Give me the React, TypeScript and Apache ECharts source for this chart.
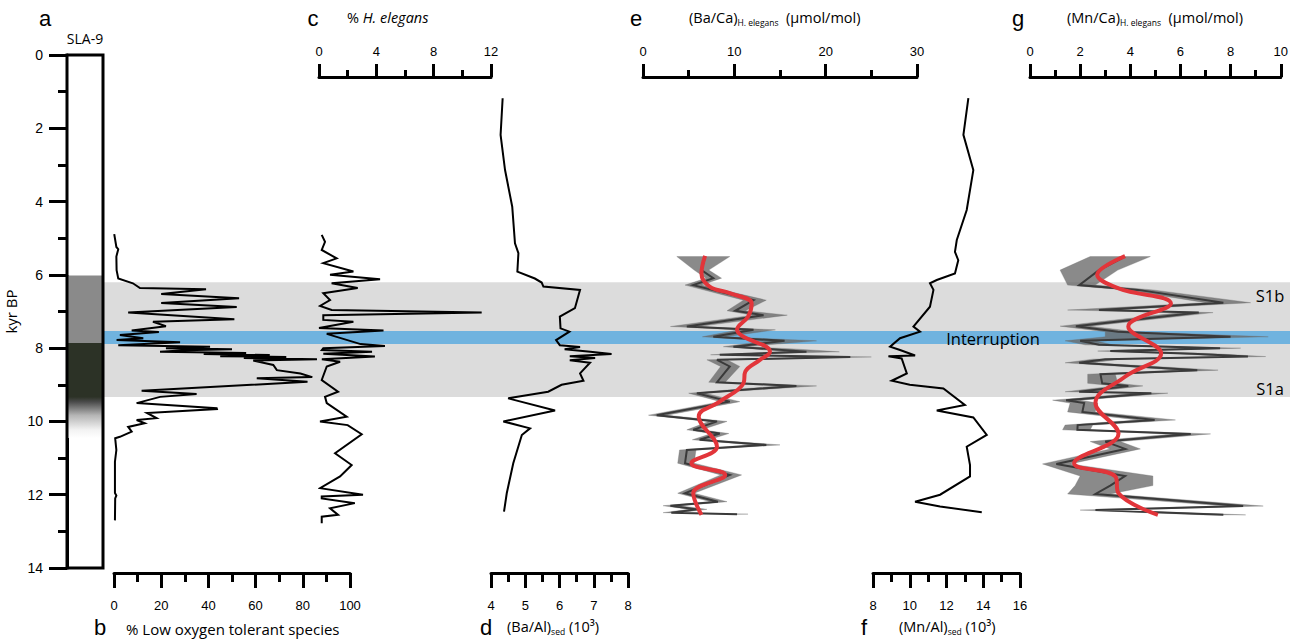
import React, { useEffect, useRef } from "react";
import * as echarts from "echarts";

// ---------- DATA ----------
// Depth/age axis (kyr BP)
const ageMin = 0;
const ageMax = 14;

// Core lithology (panel a)
const coreTop = [0, 6.02, 7.86, 9.33];
const coreBottom = [6.02, 7.86, 9.33, 10.45];
const coreKind = ["white", "grey", "dark", "fade"];

// Background bands: S1 sapropel and interruption
const bandTop = [6.2, 7.53];
const bandBottom = [9.33, 7.89];
const bandKind = ["s1", "interruption"];

// Panel b: % low oxygen tolerant species
const bAge = [4.89, 5.24, 5.3, 5.5, 5.87, 6.1, 6.23, 6.36, 6.39, 6.52, 6.64, 6.77, 6.88, 7.03, 7.21, 7.28, 7.4, 7.52, 7.56, 7.64, 7.73, 7.78, 7.84, 7.92, 7.96, 8.0, 8.03, 8.06, 8.1, 8.13, 8.16, 8.19, 8.22, 8.24, 8.27, 8.3, 8.34, 8.46, 8.6, 8.69, 8.79, 8.82, 8.92, 9.16, 9.25, 9.33, 9.5, 9.64, 9.66, 9.77, 9.91, 9.96, 10.05, 10.15, 10.28, 10.42, 10.46, 10.78, 11.1, 11.95, 12.02, 12.1, 12.7];
const bVal = [0.1, 1, 1.8, 1, 1.1, 1.8, 8, 11, 39, 20, 53, 20, 52, 6, 51, 16.5, 22, 7.5, 19, 2.5, 12.4, 1.1, 28, 1.8, 40.7, 22, 50, 30, 19.5, 56, 38, 66, 45, 73, 55, 86, 59, 67.5, 69, 79, 84, 60.5, 82, 11.7, 35, 19.5, 9.6, 43.5, 43.6, 14, 18, 9.6, 13, 6, 7.5, 2.5, 0.5, 1, 0.4, 0.4, 1, 0.5, 0.4];

// Panel c: % H. elegans
const cAge = [4.91, 5.1, 5.32, 5.55, 5.68, 5.91, 6.0, 6.12, 6.23, 6.36, 6.5, 6.69, 6.85, 6.96, 7.03, 7.1, 7.23, 7.28, 7.45, 7.52, 7.61, 7.89, 7.94, 8.0, 8.05, 8.1, 8.15, 8.23, 8.3, 8.37, 8.5, 8.87, 9.19, 9.33, 9.5, 9.87, 10.0, 10.1, 10.35, 10.87, 11.19, 11.5, 11.82, 12.0, 12.05, 12.1, 12.23, 12.37, 12.55, 12.6, 12.78];
const cVal = [0.19, 0.42, 0.19, 1.23, 0.3, 2.4, 0.77, 4.26, 0.88, 2.7, 0.3, 0.77, 0.07, 0.88, 11.35, 0.3, 0.3, 2.4, 0.0, 4.5, 0.54, 2.9, 4.6, 0.3, 0.2, 3.7, 0.3, 3.9, 0.2, 1.47, 0.54, 0.19, 1.33, 0.42, 0.54, 1.93, 0.07, 2.0, 2.98, 1.12, 2.28, 1.47, 0.07, 3.07, 0.19, 0.19, 2.5, 0.77, 1.33, 0.19, 0.19];

// Panel d: (Ba/Al)sed
const dAge = [1.18, 2.18, 3.14, 4.14, 5.14, 5.41, 5.91, 6.1, 6.21, 6.32, 6.41, 6.91, 7.14, 7.46, 7.55, 7.78, 7.92, 7.97, 8.03, 8.1, 8.16, 8.22, 8.27, 8.33, 8.4, 8.69, 8.89, 9.0, 9.19, 9.37, 9.7, 10.0, 10.19, 10.37, 11.14, 11.96, 12.46];
const dVal = [4.34, 4.28, 4.41, 4.62, 4.7, 4.8, 4.77, 5.28, 5.48, 5.53, 6.6, 6.45, 6.01, 6.03, 6.29, 5.9, 6.01, 6.6, 6.15, 6.9, 7.52, 6.3, 7.04, 6.3, 6.89, 6.6, 6.7, 6.06, 5.67, 4.5, 5.87, 4.36, 5.14, 4.9, 4.65, 4.46, 4.38];

// Panel e: (Ba/Ca) H. elegans, measured line with uncertainty envelope
const eAge = [5.5, 5.87, 6.09, 6.28, 6.69, 6.98, 7.1, 7.41, 7.5, 7.69, 7.8, 7.96, 8.02, 8.1, 8.18, 8.24, 8.32, 8.5, 8.93, 9.03, 9.23, 9.46, 9.83, 10.0, 10.23, 10.33, 10.5, 10.64, 10.78, 11.14, 11.46, 11.96, 12.19, 12.3, 12.4, 12.49, 12.53];
const eVal = [6.8, 6.4, 7.7, 5.5, 12.1, 10.1, 13.2, 4.8, 12.1, 7.7, 15.5, 9.9, 13.6, 17.9, 8.4, 22.7, 8.1, 9.5, 8.1, 16.8, 5.9, 9.5, 1.5, 8.1, 5.5, 8.4, 6.2, 13.5, 4.8, 4.6, 9.5, 4.6, 8.2, 3.0, 5.9, 3.1, 10.3];
const eLo = [3.7, 5.6, 6.9, 4.6, 11.0, 9.2, 12.0, 3.0, 10.5, 6.5, 13.5, 8.8, 12.2, 15.5, 7.4, 19.5, 7.0, 8.5, 7.2, 15.0, 5.0, 8.5, 0.6, 7.2, 4.8, 7.5, 5.4, 12.0, 4.0, 3.8, 8.5, 3.8, 7.4, 2.2, 5.0, 2.2, 9.3];
const eHi = [9.5, 7.2, 8.6, 6.4, 13.5, 11.2, 15.8, 6.0, 14.5, 9.0, 19.0, 11.2, 16.5, 21.5, 9.4, 25.0, 9.2, 10.6, 9.0, 19.0, 6.8, 10.6, 2.6, 9.2, 6.4, 9.4, 7.2, 15.0, 5.8, 5.6, 10.8, 5.6, 9.2, 4.0, 7.0, 4.0, 11.5];
// Panel e smoothed record
const eSmoothAge = [5.48, 5.96, 6.32, 6.5, 6.78, 7.14, 7.5, 7.69, 7.96, 8.1, 8.32, 8.64, 8.96, 9.46, 9.87, 10.69, 11.14, 11.46, 11.96, 12.55];
const eSmoothVal = [6.8, 6.4, 7.3, 9.5, 11.9, 11.5, 10.3, 11.0, 13.5, 13.9, 12.8, 11.2, 11.0, 8.4, 6.1, 8.1, 5.3, 9.0, 5.5, 6.4];

// Panel f: (Mn/Al)sed
const fAge = [1.18, 2.18, 3.14, 4.23, 5.05, 5.37, 5.6, 5.96, 6.14, 6.23, 6.41, 6.87, 7.41, 7.55, 7.73, 7.96, 8.05, 8.2, 8.22, 8.28, 8.69, 8.89, 9.0, 9.1, 9.55, 9.7, 9.89, 10.37, 10.69, 11.19, 11.5, 12.0, 12.19, 12.32, 12.48];
const fVal = [13.19, 12.92, 13.46, 13.1, 12.56, 12.46, 12.64, 12.46, 11.47, 11.1, 11.29, 11.1, 10.2, 10.56, 9.47, 8.93, 9.47, 10.29, 8.84, 9.56, 9.84, 9.02, 10.0, 11.83, 13.0, 11.47, 13.46, 14.19, 13.1, 13.28, 13.28, 11.65, 10.29, 11.65, 13.92];

// Panel g: (Mn/Ca) H. elegans, measured line with uncertainty envelope
const gAge = [5.5, 5.87, 6.28, 6.41, 6.76, 6.96, 7.03, 7.4, 7.55, 7.69, 7.8, 7.91, 8.0, 8.08, 8.15, 8.23, 8.3, 8.4, 8.6, 8.71, 8.96, 9.03, 9.19, 9.23, 9.42, 9.5, 9.74, 9.96, 10.1, 10.23, 10.34, 10.55, 10.75, 11.16, 11.49, 11.75, 11.98, 12.31, 12.42, 12.55];
const gVal = [3.79, 2.75, 1.96, 4.31, 7.71, 2.75, 6.73, 1.83, 3.5, 8.0, 2.0, 2.75, 7.58, 3.2, 6.5, 8.69, 3.0, 1.96, 6.67, 2.81, 2.88, 3.92, 1.96, 4.84, 1.44, 2.16, 2.09, 4.97, 1.9, 1.89, 6.41, 3.0, 3.8, 1.05, 3.79, 3.2, 2.61, 8.5, 2.61, 7.71];
const gLo = [2.4, 1.2, 1.5, 3.8, 7.0, 1.5, 6.0, 1.2, 3.0, 3.0, 1.4, 2.2, 6.8, 2.7, 5.8, 8.0, 2.5, 1.4, 6.0, 2.3, 2.3, 3.4, 1.4, 4.2, 0.9, 1.6, 1.5, 4.3, 1.4, 1.3, 5.7, 2.4, 3.2, 0.5, 2.0, 1.8, 1.5, 7.8, 2.0, 7.0];
const gHi = [4.8, 3.5, 2.6, 4.9, 8.8, 3.3, 7.3, 2.4, 4.2, 9.5, 2.6, 3.3, 8.4, 3.8, 7.3, 9.4, 3.6, 2.5, 7.5, 3.4, 3.5, 4.5, 2.5, 5.5, 2.0, 2.7, 2.6, 5.8, 2.5, 2.4, 7.2, 3.6, 4.4, 1.6, 4.9, 4.9, 3.2, 9.3, 3.2, 8.6];
// Panel g smoothed record
const gSmoothAge = [5.49, 6.0, 6.37, 6.78, 7.41, 8.14, 8.78, 9.5, 10.33, 11.14, 11.5, 11.96, 12.55];
const gSmoothVal = [3.79, 2.68, 3.53, 5.62, 3.92, 5.23, 3.79, 2.61, 3.53, 1.76, 3.4, 3.53, 5.1];

// ---------- STYLE HELPERS ----------
const NUM_FONT = "Liberation Sans";
const TXT_FONT = "Open Sans";
const GRID_TOP = 55;
const GRID_H = 513;

const grid = (left: number, width: number) => ({ left, width, top: GRID_TOP, height: GRID_H, containLabel: false });

const hiddenX = (gi: number, min: number, max: number) => ({
  gridIndex: gi, type: "value", min, max, show: false,
});
const hiddenY = (gi: number) => ({
  gridIndex: gi, type: "value", min: ageMin, max: ageMax, inverse: true, show: false,
});

const visX = (gi: number, min: number, max: number, interval: number, pos: "top" | "bottom", offset: number) => ({
  gridIndex: gi,
  type: "value",
  min,
  max,
  interval,
  position: pos,
  offset,
  axisLine: { show: true, onZero: false, lineStyle: { color: "#000", width: 3 } },
  axisTick: { show: true, length: pos === "top" ? 13 : 15, lineStyle: { color: "#000", width: 3 } },
  minorTick: { show: true, splitNumber: 2, length: pos === "top" ? 7 : 9, lineStyle: { color: "#000", width: 3 } },
  splitLine: { show: false },
  minorSplitLine: { show: false },
  axisLabel: { color: "#000", fontSize: 13, fontFamily: NUM_FONT, margin: pos === "top" ? 19 : 26 },
});

const lineSeries = (gi: number, vals: number[], ages: number[], color: string, width: number, smooth: number | boolean = false, z = 4) => ({
  type: "line",
  xAxisIndex: gi,
  yAxisIndex: gi,
  data: vals.map((v, i) => [v, ages[i]]),
  showSymbol: false,
  symbol: "none",
  smooth,
  lineStyle: { color, width, join: "miter" },
  silent: true,
  z,
});

const envelopeSeries = (gi: number, ages: number[], lo: number[], hi: number[]) => ({
  type: "custom",
  xAxisIndex: gi,
  yAxisIndex: gi,
  data: [[0, 0]],
  silent: true,
  z: 3,
  renderItem: (_p: any, api: any) => {
    const pts: number[][] = [];
    for (let i = 0; i < ages.length; i++) pts.push(api.coord([lo[i], ages[i]]));
    for (let i = ages.length - 1; i >= 0; i--) pts.push(api.coord([hi[i], ages[i]]));
    return { type: "polygon", shape: { points: pts }, style: { fill: "rgba(105,105,105,0.78)", stroke: "rgba(105,105,105,0.3)", lineWidth: 1 } };
  },
});

const coreFill = (kind: string) => {
  if (kind === "white") return "#ffffff";
  if (kind === "grey") return "#8a8a8a";
  if (kind === "dark") return "#2c3226";
  return new echarts.graphic.LinearGradient(0, 0, 0, 1, [
    { offset: 0, color: "#2c3226" },
    { offset: 0.12, color: "#4a4a4a" },
    { offset: 0.45, color: "#b5b5b5" },
    { offset: 0.8, color: "#f2f2f2" },
    { offset: 1, color: "#ffffff" },
  ]);
};

// ---------- OPTION ----------
const buildOption = () => {
  const grids = [
    grid(103, 1187), // 0 background bands
    grid(67, 36), // 1 core
    grid(114, 236), // 2 b
    grid(319, 172), // 3 c
    grid(491, 137), // 4 d
    grid(643, 274), // 5 e
    grid(873, 147), // 6 f
    grid(1030, 255), // 7 g
  ];

  const xAxes = [
    hiddenX(0, 0, 1),
    hiddenX(1, 0, 1),
    visX(2, 0, 100, 20, "bottom", 5),
    visX(3, 0, 12, 4, "top", -22),
    visX(4, 4, 8, 1, "bottom", 5),
    visX(5, 0, 30, 10, "top", -22),
    visX(6, 8, 16, 2, "bottom", 5),
    visX(7, 0, 10, 2, "top", -22),
  ];

  const yAxes: any[] = [0, 1, 2, 3, 4, 5, 6, 7].map((gi) => hiddenY(gi));
  yAxes[1] = {
    gridIndex: 1,
    type: "value",
    min: ageMin,
    max: ageMax,
    interval: 2,
    inverse: true,
    position: "left",
    name: "kyr BP",
    nameLocation: "middle",
    nameGap: 49,
    nameRotate: 90,
    nameTextStyle: { color: "#000", fontSize: 15, fontFamily: TXT_FONT },
    axisLine: { show: true, onZero: false, lineStyle: { color: "#000", width: 3 } },
    axisTick: { show: true, length: 18, lineStyle: { color: "#000", width: 3 } },
    minorTick: { show: true, splitNumber: 2, length: 9, lineStyle: { color: "#000", width: 3 } },
    splitLine: { show: false },
    minorSplitLine: { show: false },
    axisLabel: { color: "#000", fontSize: 14, fontFamily: NUM_FONT, margin: 24 },
  };

  const series: any[] = [
    // background bands
    {
      type: "custom",
      xAxisIndex: 0,
      yAxisIndex: 0,
      data: bandTop.map((t, i) => [t, bandBottom[i], i]),
      silent: true,
      z: 0,
      renderItem: (p: any, api: any) => {
        const i = p.dataIndex;
        const a = api.coord([0, bandTop[i]]);
        const b = api.coord([1, bandBottom[i]]);
        return {
          type: "rect",
          shape: { x: a[0], y: a[1], width: b[0] - a[0], height: b[1] - a[1] },
          style: { fill: bandKind[i] === "s1" ? "#dcdcdc" : "#70b3df" },
          z2: bandKind[i] === "s1" ? 0 : 1,
        };
      },
    },
    // core column
    {
      type: "custom",
      xAxisIndex: 1,
      yAxisIndex: 1,
      data: coreTop.map((t, i) => [t, coreBottom[i], i]),
      silent: true,
      z: 1,
      renderItem: (p: any, api: any) => {
        const i = p.dataIndex;
        const a = api.coord([0, coreTop[i]]);
        const b = api.coord([1, coreBottom[i]]);
        return {
          type: "rect",
          shape: { x: a[0], y: a[1], width: b[0] - a[0], height: b[1] - a[1] },
          style: { fill: coreFill(coreKind[i]) },
        };
      },
    },
    // core frame
    {
      type: "custom",
      xAxisIndex: 1,
      yAxisIndex: 1,
      data: [[0, 0]],
      silent: true,
      z: 5,
      renderItem: (_p: any, api: any) => {
        const a = api.coord([0, ageMin]);
        const b = api.coord([1, ageMax]);
        return {
          type: "rect",
          shape: { x: a[0], y: a[1], width: b[0] - a[0], height: b[1] - a[1] },
          style: { fill: "none", stroke: "#000", lineWidth: 3 },
        };
      },
    },
    lineSeries(2, bVal, bAge, "#000", 2),
    lineSeries(3, cVal, cAge, "#000", 2),
    lineSeries(4, dVal, dAge, "#000", 2),
    envelopeSeries(5, eAge, eLo, eHi),
    lineSeries(5, eVal, eAge, "#3a3a3a", 2),
    lineSeries(5, eSmoothVal, eSmoothAge, "#e2353a", 4, 0.4, 6),
    lineSeries(6, fVal, fAge, "#000", 2),
    envelopeSeries(7, gAge, gLo, gHi),
    lineSeries(7, gVal, gAge, "#3a3a3a", 2),
    lineSeries(7, gSmoothVal, gSmoothAge, "#e2353a", 4, 0.4, 6),
  ];

  const letter = (t: string, x: number, y: number) => ({
    type: "text",
    z: 100,
    style: { text: t, x, y, fill: "#000", fontSize: 22, fontFamily: NUM_FONT, textAlign: "center", textVerticalAlign: "middle" },
  });
  const label = (t: string, x: number, y: number, rich: any, align = "left", size = 15) => ({
    type: "text",
    z: 100,
    style: { text: t, x, y, fill: "#000", fontSize: size, fontFamily: TXT_FONT, textAlign: align, textVerticalAlign: "middle", rich },
  });

  const richTitle = {
    n: { fontSize: 14.5, fontFamily: TXT_FONT, lineHeight: 20, verticalAlign: "middle" },
    sub: { fontSize: 8.5, fontFamily: TXT_FONT, lineHeight: 11, verticalAlign: "bottom" },
    it: { fontSize: 14.5, fontFamily: TXT_FONT, fontStyle: "italic", lineHeight: 20, verticalAlign: "middle" },
  };

  const graphic = [
    letter("a", 45, 18),
    label("SLA-9", 85, 38, undefined, "center", 14),
    letter("c", 313, 18),
    label("{n|% }{it|H. elegans}", 347, 17, richTitle),
    letter("e", 636, 18),
    label("{n|(Ba/Ca)}{sub|H. elegans}{n|  (µmol/mol)}", 689, 17, richTitle),
    letter("g", 1018, 18),
    label("{n|(Mn/Ca)}{sub|H. elegans}{n|  (µmol/mol)}", 1067, 17, richTitle),
    letter("b", 100, 627),
    label("% Low oxygen tolerant species", 126, 629, undefined, "left", 15),
    letter("d", 486, 627),
    label("{n|(Ba/Al)}{sub|sed}{n| (10³)}", 507, 626, richTitle),
    letter("f", 864, 627),
    label("{n|(Mn/Al)}{sub|sed}{n| (10³)}", 899, 626, richTitle),
    label("Interruption", 993, 338, undefined, "center", 16.5),
    label("S1b", 1270, 295, undefined, "center", 16.5),
    label("S1a", 1270, 388, undefined, "center", 16.5),
  ];

  return {
    animation: false,
    backgroundColor: "#ffffff",
    textStyle: { fontFamily: NUM_FONT },
    grid: grids,
    xAxis: xAxes,
    yAxis: yAxes,
    series,
    graphic,
  };
};

export default function App() {
  const ref = useRef<HTMLDivElement>(null);
  useEffect(() => {
    if (!ref.current) return;
    const chart = echarts.init(ref.current, null, { renderer: "svg" });
    chart.setOption(buildOption() as any);
    return () => chart.dispose();
  }, []);
  return (
    <div
      ref={ref}
      style={{ position: "fixed", left: 0, top: 0, width: 1291, height: 640, background: "#fff" }}
    />
  );
}
